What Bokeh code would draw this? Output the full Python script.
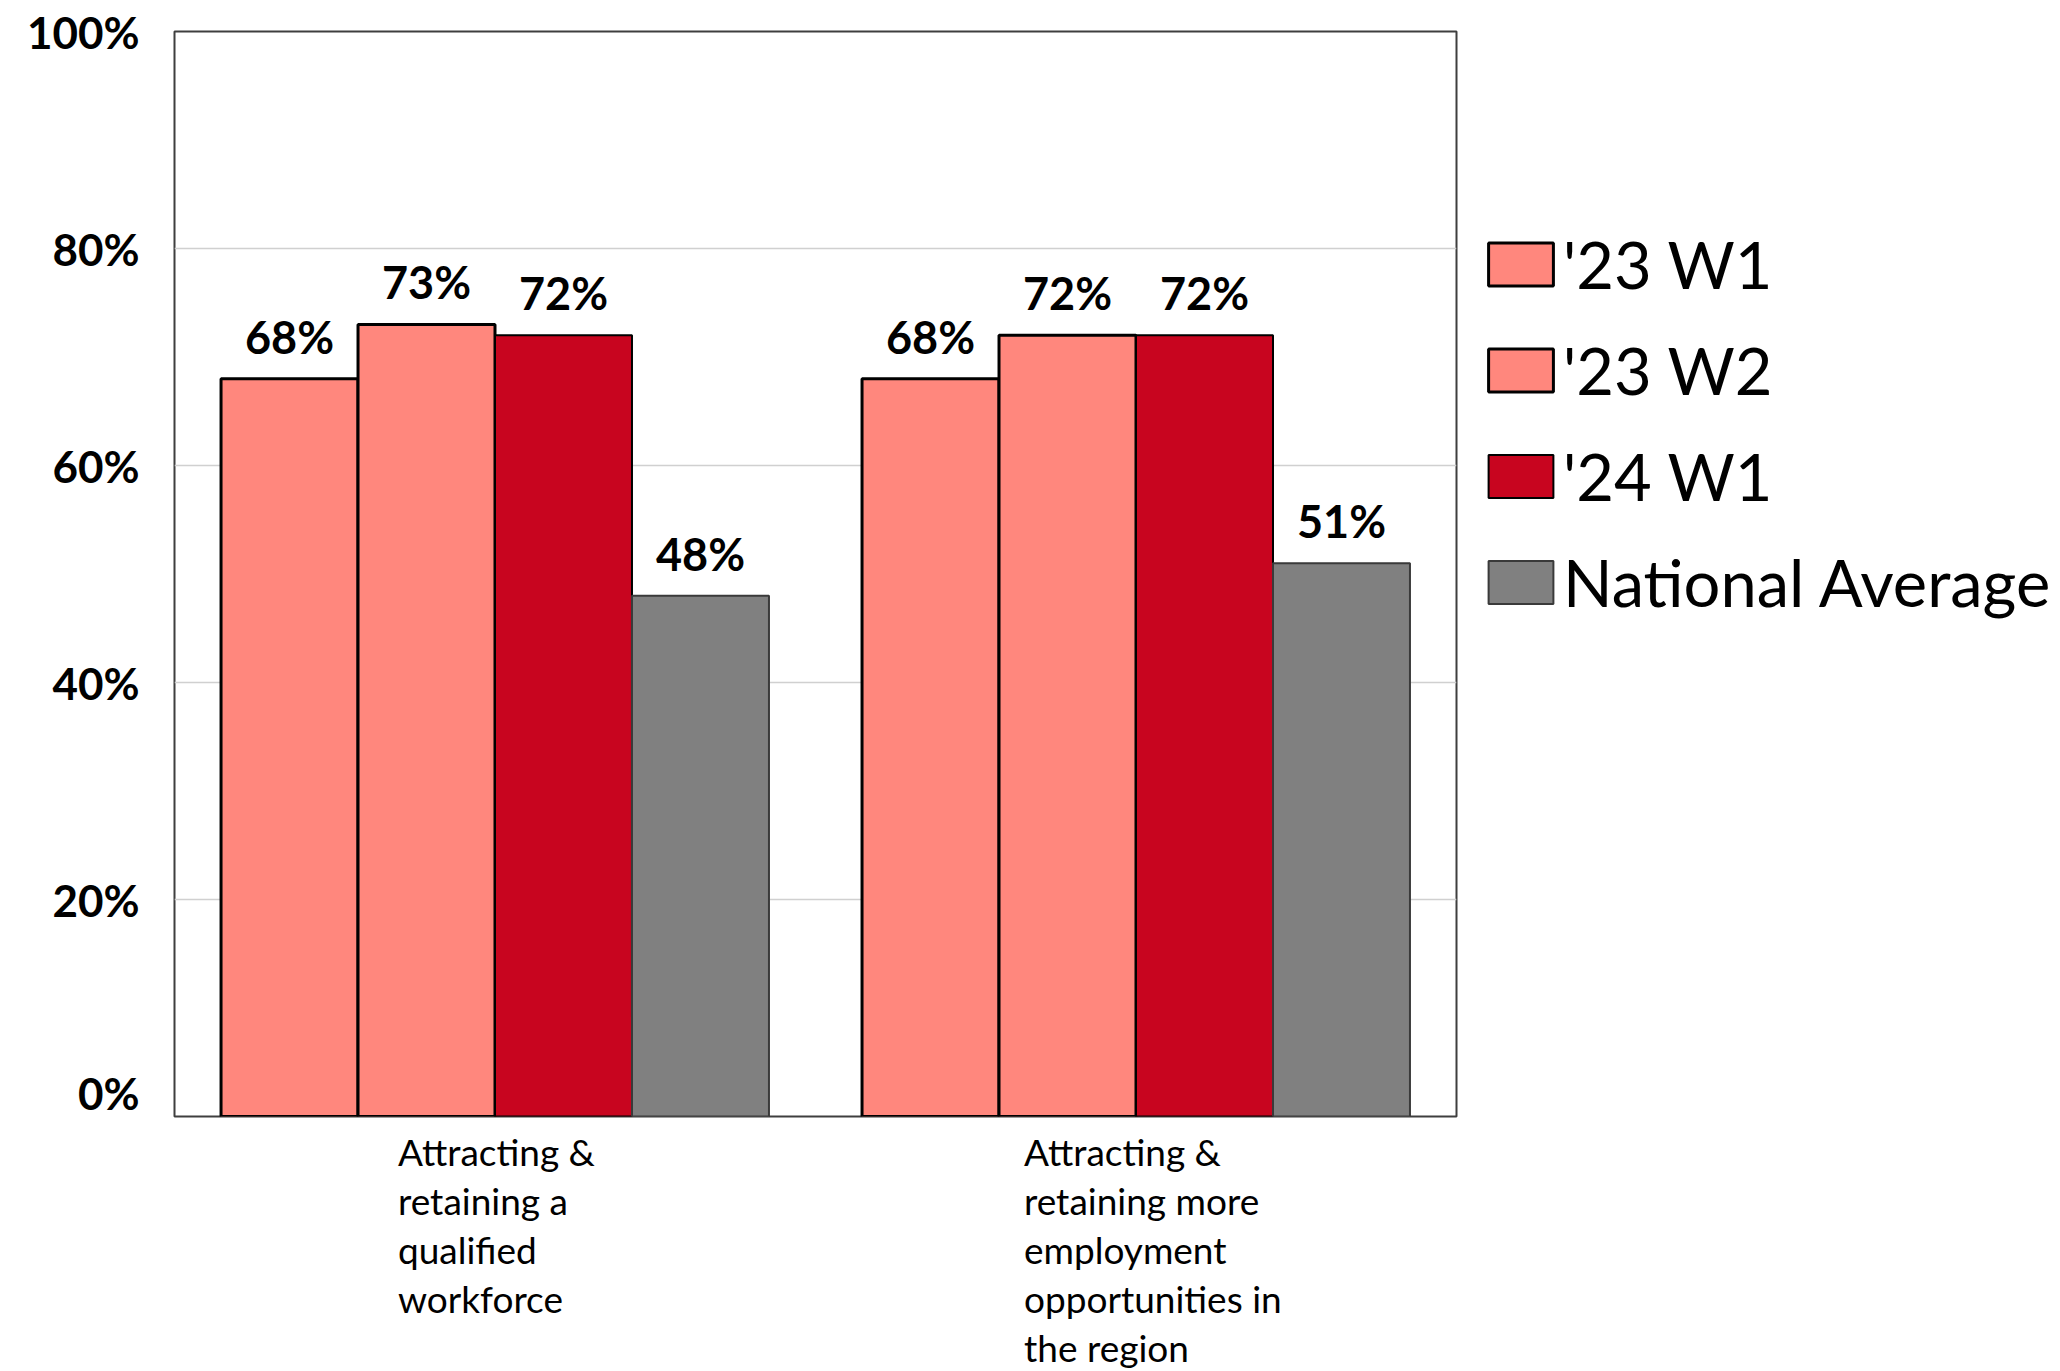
from bokeh.plotting import figure
from bokeh.models import (ColumnDataSource, FactorRange, Range1d, FixedTicker, NumeralTickFormatter,
                          Legend, LegendItem)
from bokeh.layouts import row, column
from bokeh.transform import dodge
from bokeh.core.properties import value
from bokeh.embed import file_html
from bokeh.resources import INLINE

# ---------------- data ----------------
categories = ["Attracting & retaining a qualified workforce",
              "Attracting & retaining more employment opportunities in the region"]
category_labels = ["Attracting &\nretaining a\nqualified\nworkforce",
                   "Attracting &\nretaining more\nemployment\nopportunities in\nthe region"]
series_names = ["'23 W1", "'23 W2", "'24 W1", "National Average"]
w23_1 = [0.68, 0.68]
w23_2 = [0.73, 0.72]
w24_1 = [0.72, 0.72]
national = [0.48, 0.51]
y_ticks = [0, 0.2, 0.4, 0.6, 0.8, 1.0]

# ---------------- styles ----------------
FONT = "Lato"
fills = ["#FF877D", "#FF877D", "#C8051F", "#808080"]
lines = ["#000000", "#000000", "#000000", "#3a3a3a"]
line_widths = [3, 3, 2, 2]
bar_w = 0.2137
offsets = [-1.5 * bar_w, -0.5 * bar_w, 0.5 * bar_w, 1.5 * bar_w]
label_x_offsets = [-97, -112]   # px, left edge of wrapped category label from category centre

xr = FactorRange(*categories, range_padding=0)

# ---------------- main chart ----------------
p = figure(x_range=xr, y_range=Range1d(0, 1), x_axis_location=None,
           width=1460, height=1118, output_backend="svg", toolbar_location=None,
           min_border_left=174, min_border_right=4, min_border_top=31, min_border_bottom=2)

p.outline_line_color = "#3f3f3f"
p.outline_line_width = 2
p.background_fill_color = "white"
p.border_fill_color = "white"

p.xgrid.visible = False
p.ygrid.grid_line_color = "#d0d0d0"
p.ygrid.grid_line_width = 1.5
p.ygrid.ticker = FixedTicker(ticks=y_ticks)

ya = p.yaxis[0]
ya.ticker = FixedTicker(ticks=y_ticks)
ya.formatter = NumeralTickFormatter(format="0%")
ya.axis_line_color = None
ya.major_tick_line_color = None
ya.minor_tick_line_color = None
ya.major_label_text_font = FONT
ya.major_label_text_font_style = "bold"
ya.major_label_text_font_size = "44px"
ya.major_label_text_color = "black"
ya.major_label_standoff = 29

series = [w23_1, w23_2, w24_1, national]
sources = []
for i, (name, vals) in enumerate(zip(series_names, series)):
    src = ColumnDataSource(dict(cat=categories, val=vals,
                                txt=[f"{round(v * 100):d}%" for v in vals]))
    sources.append(src)
    p.vbar(x=dodge("cat", offsets[i], range=xr), top="val", width=bar_w, source=src,
           fill_color=fills[i], line_color=lines[i], line_width=line_widths[i])
    p.text(x=dodge("cat", offsets[i], range=xr), y="val", text="txt", source=src,
           text_align="center", text_baseline="alphabetic", y_offset=-42,
           text_font=value(FONT), text_font_style="bold", text_font_size="45px", text_color="black")

# ---------------- category labels (below the frame) ----------------
pb = figure(x_range=xr, y_range=Range1d(0, 1), x_axis_location=None, y_axis_location=None,
            width=1460, height=253, output_backend="svg", toolbar_location=None,
            min_border_left=174, min_border_right=4, min_border_top=0, min_border_bottom=0)
pb.outline_line_color = None
pb.grid.visible = False
lab_src = ColumnDataSource(dict(cat=categories, lab=category_labels, dx=label_x_offsets))
pb.text(x="cat", y=1, text="lab", x_offset="dx", y_offset=10, source=lab_src,
        text_align="left", text_baseline="top", text_font=value(FONT),
        text_font_size="37px", text_line_height=1.09, text_color="black")

# ---------------- legend ----------------
pl = figure(x_range=xr, y_range=Range1d(-3, -2), x_axis_location=None, y_axis_location=None,
            width=600, height=1118, output_backend="svg", toolbar_location=None,
            min_border_left=0, min_border_right=0, min_border_top=205, min_border_bottom=0)
pl.outline_line_color = None
pl.grid.visible = False
items = []
for i, name in enumerate(series_names):
    # the same bars as rects, lying outside this panel's view: only their legend swatches show
    r = pl.rect(x=dodge("cat", offsets[i], range=xr), y="val", width=bar_w, height="val",
                source=sources[i], fill_color=fills[i], line_color=lines[i],
                line_width=line_widths[i])
    items.append(LegendItem(label=name, renderers=[r]))
legend = Legend(items=items, location="top_left", orientation="vertical",
                glyph_width=81, glyph_height=54, label_standoff=2,
                spacing=28, padding=0, margin=20, border_line_color=None,
                background_fill_alpha=0,
                label_text_font=FONT, label_text_font_size="65px", label_text_color="black")
pl.add_layout(legend, "center")

layout = row(column(p, pb), pl)
open("out.html", "w").write(file_html(layout, INLINE))
